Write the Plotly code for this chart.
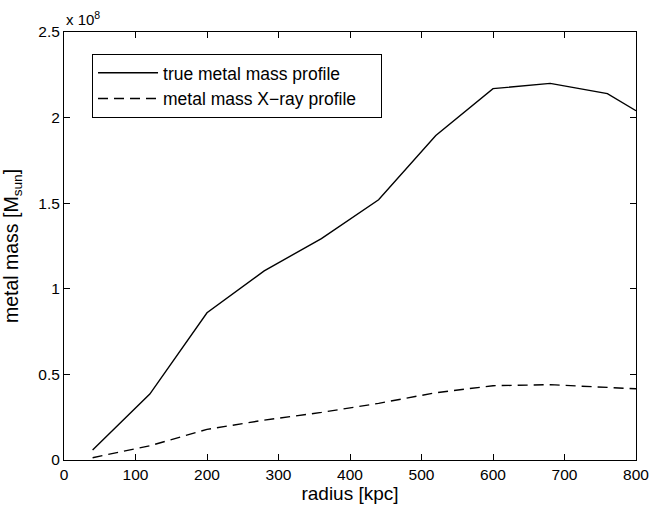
import plotly.graph_objects as go

radius_kpc = [40, 120, 200, 280, 360, 440, 520, 600, 680, 760, 800]
true_mass_e8 = [0.058, 0.385, 0.86, 1.105, 1.293, 1.52, 1.895, 2.169, 2.20, 2.14, 2.04]
xray_mass_e8 = [0.0135, 0.083, 0.179, 0.233, 0.278, 0.331, 0.393, 0.434, 0.44, 0.422, 0.416]

x_ticks = [0, 100, 200, 300, 400, 500, 600, 700, 800]
y_ticks = [0, 0.5, 1, 1.5, 2, 2.5]
y_tick_labels = ["0", "0.5", "1", "1.5", "2", "2.5"]

FONT = "Liberation Sans, Arial, Helvetica, sans-serif"
PAD = "\u00a0" * 4

fig = go.Figure()
fig.add_trace(go.Scatter(x=radius_kpc, y=true_mass_e8, mode="lines",
                         name="true metal mass profile" + PAD,
                         line=dict(color="black", width=1.4, dash="solid")))
fig.add_trace(go.Scatter(x=radius_kpc, y=xray_mass_e8, mode="lines",
                         name="metal mass X\u2212ray profile" + PAD,
                         line=dict(color="black", width=1.4, dash="10px,6px")))

axis_common = dict(showline=True, linecolor="black", linewidth=1, mirror="allticks",
                   ticks="inside", ticklen=6, tickcolor="black", showgrid=False,
                   zeroline=False, automargin=False,
                   tickfont=dict(family=FONT, size=15.5, color="black"))

fig.update_xaxes(range=[0, 800], tickvals=x_ticks,
                 title=dict(text="radius [kpc]", font=dict(family=FONT, size=19, color="black"), standoff=4),
                 **axis_common)
fig.update_yaxes(range=[0, 2.5], tickvals=y_ticks, ticktext=y_tick_labels,
                 title=dict(text="metal mass [M<sub>sun</sub>]", font=dict(family=FONT, size=19.5, color="black"), standoff=14),
                 **axis_common)

fig.add_annotation(text="x 10<sup>8</sup>", xref="paper", yref="paper", x=0.0, y=1.0,
                   xanchor="left", yanchor="bottom", showarrow=False, yshift=2,
                   font=dict(family=FONT, size=15, color="black"))

fig.update_layout(
    width=651, height=511,
    margin=dict(l=64, r=15, t=32, b=51),
    paper_bgcolor="white", plot_bgcolor="white",
    showlegend=True,
    legend=dict(x=0.049, y=0.949, xanchor="left", yanchor="top",
                bordercolor="black", borderwidth=1, bgcolor="white",
                font=dict(family=FONT, size=17.5, color="black"),
                itemwidth=60),
)

fig.write_html("out.html", config={"displayModeBar": False},
               post_script="document.body.style.margin='0';")
